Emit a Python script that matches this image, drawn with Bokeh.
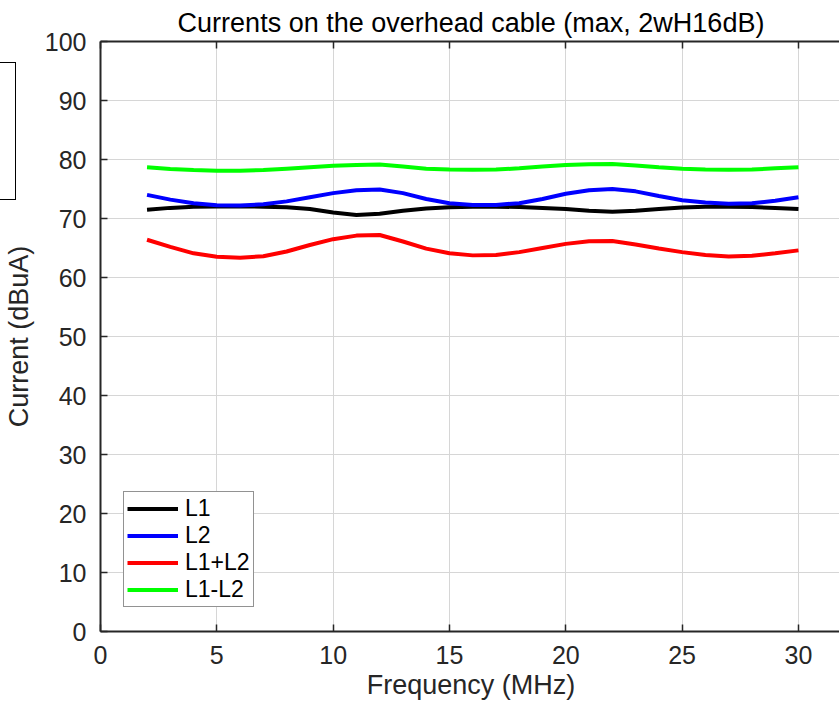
from bokeh.plotting import figure
from bokeh.models import (LinearAxis, SingleIntervalTicker, Legend, LegendItem,
                          Range1d, InlineStyleSheet)
from bokeh.embed import file_html
from bokeh.resources import INLINE

# ---- data ----
freq = [2, 3, 4, 5, 6, 7, 8, 9, 10, 11, 12, 13, 14, 15, 16, 17, 18, 19, 20,
        21, 22, 23, 24, 25, 26, 27, 28, 29, 30]
L1 = [71.5, 71.8, 72.0, 72.05, 72.05, 72.0, 71.9, 71.6, 71.0, 70.6, 70.8, 71.3,
      71.7, 71.9, 72.0, 72.0, 71.95, 71.8, 71.6, 71.3, 71.15, 71.3, 71.6, 71.85,
      72.0, 72.0, 71.95, 71.8, 71.6]
L2 = [74.0, 73.2, 72.6, 72.25, 72.2, 72.4, 72.9, 73.6, 74.3, 74.8, 74.9, 74.3,
      73.3, 72.6, 72.3, 72.3, 72.6, 73.3, 74.2, 74.8, 75.0, 74.6, 73.8, 73.1,
      72.7, 72.5, 72.6, 73.0, 73.6]
L1pL2 = [66.4, 65.2, 64.1, 63.5, 63.35, 63.6, 64.4, 65.5, 66.5, 67.1, 67.2, 66.1,
         64.9, 64.1, 63.75, 63.8, 64.3, 65.0, 65.7, 66.15, 66.2, 65.6, 64.9, 64.3,
         63.8, 63.55, 63.7, 64.1, 64.6]
L1mL2 = [78.7, 78.4, 78.2, 78.1, 78.1, 78.2, 78.45, 78.7, 78.95, 79.05, 79.15, 78.8,
         78.45, 78.3, 78.25, 78.3, 78.5, 78.8, 79.05, 79.2, 79.25, 79.0, 78.7, 78.45,
         78.3, 78.25, 78.3, 78.5, 78.7]
series_names = ["L1", "L2", "L1+L2", "L1-L2"]
series_colors = ["#000000", "#0000ff", "#ff0000", "#00ff00"]

FONT = "Liberation Sans"
FS_TICK = "25px"
FS_LAB = "27px"
AX = "#262626"

p = figure(frame_width=741, frame_height=590, output_backend="svg",
           toolbar_location=None, x_range=Range1d(0, 31.85), y_range=Range1d(0, 100),
           min_border_left=98, min_border_right=0, min_border_top=41,
           min_border_bottom=77, x_axis_location="below", y_axis_location="left",
           title="Currents on the overhead cable (max, 2wH16dB)")
p.outline_line_color = None
p.background_fill_color = "white"
p.border_fill_color = "white"

p.title.align = "center"
p.title.text_font = FONT
p.title.text_font_size = FS_LAB
p.title.text_font_style = "normal"
p.title.text_color = "#000000"
p.title.standoff = 0

renderers = []
for ys, c in zip([L1, L2, L1pL2, L1mL2], series_colors):
    r = p.line(freq, ys, line_color=c, line_width=4)
    renderers.append(r)

# axes
for ax in [p.xaxis[0], p.yaxis[0]]:
    ax.axis_line_color = AX
    ax.axis_line_width = 2
    ax.major_tick_line_color = AX
    ax.major_tick_line_width = 1.5
    ax.major_tick_in = 7
    ax.major_tick_out = 0
    ax.minor_tick_line_color = None
    ax.major_label_text_font = FONT
    ax.major_label_text_font_size = FS_TICK
    ax.major_label_text_color = AX
    ax.axis_label_text_font = FONT
    ax.axis_label_text_font_size = FS_LAB
    ax.axis_label_text_font_style = "normal"
    ax.axis_label_text_color = AX

p.xaxis[0].ticker = SingleIntervalTicker(interval=5)
p.yaxis[0].ticker = SingleIntervalTicker(interval=10)
p.xaxis[0].axis_label = "Frequency (MHz)"
p.yaxis[0].axis_label = "Current (dBuA)"
p.xaxis[0].major_label_standoff = 10
p.xaxis[0].axis_label_standoff = 3
p.yaxis[0].major_label_standoff = 10
p.yaxis[0].axis_label_standoff = 8

top = LinearAxis(ticker=SingleIntervalTicker(interval=5), axis_line_color=AX,
                 axis_line_width=2, major_tick_line_color=AX, major_tick_line_width=1.5,
                 major_tick_in=7, major_tick_out=0, minor_tick_line_color=None,
                 major_label_text_font_size="1px", major_label_text_color=None,
                 major_label_standoff=0)
p.add_layout(top, "above")

p.xgrid.ticker = SingleIntervalTicker(interval=5)
p.ygrid.ticker = SingleIntervalTicker(interval=10)
for g in [p.xgrid[0], p.ygrid[0]]:
    g.grid_line_color = "#d6d6d6"
    g.grid_line_width = 1

legend = Legend(items=[LegendItem(label=n, renderers=[r]) for n, r in zip(series_names, renderers)],
                location=(23, 24), label_text_font=FONT, label_text_font_size="23px",
                label_text_color="#000000", glyph_width=51, glyph_height=25,
                label_height=25, spacing=0, padding=3, margin=0, label_standoff=7,
                border_line_color="#262626", border_line_width=1,
                background_fill_color="white", background_fill_alpha=1)
p.add_layout(legend, "center")

# partially visible empty box at the left edge of the figure (outside the axes)
p.stylesheets = [InlineStyleSheet(css="""
:host { position: relative; }
:host::after {
  content: "";
  position: absolute;
  left: -30px; top: 62px;
  width: 46px; height: 138px;
  box-sizing: border-box;
  border: 1.5px solid #000000;
  pointer-events: none;
  z-index: 10;
}
""")]

open("out.html", "w").write(file_html(p, INLINE))
